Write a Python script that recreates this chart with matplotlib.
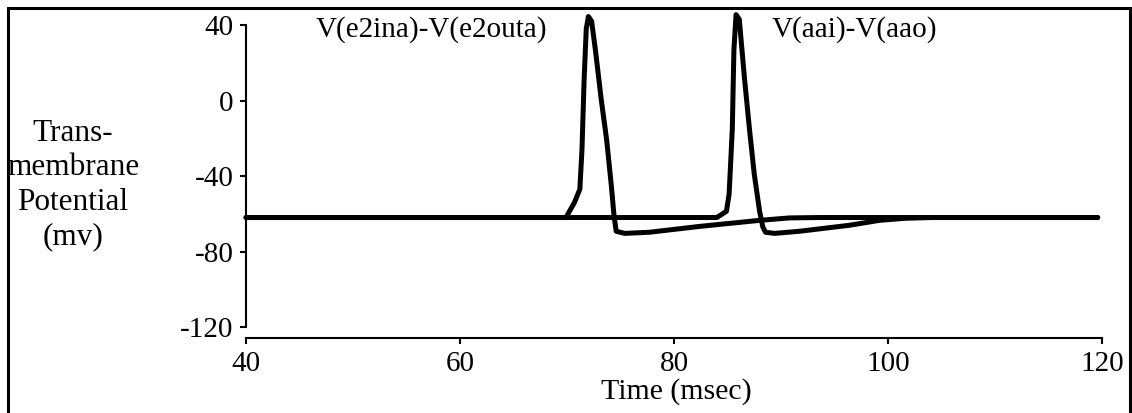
import matplotlib
matplotlib.use("Agg")
import matplotlib.pyplot as plt
from matplotlib.patches import Rectangle

# Series 1: V(e2ina)-V(e2outa)
t1 = [40, 69.9, 70.7, 71.2, 71.4, 71.6, 71.8, 72.0, 72.3, 72.65, 73.2, 73.7, 74.15, 74.4,
      74.6, 75.4, 77.7, 82.4, 88.0, 90.8, 93.6, 119.6]
v1 = [-62, -62, -54, -47, -26, 11, 38, 44.5, 42, 27, 0.5, -20.6, -45.5, -61.4,
      -69.3, -70.4, -69.8, -66.7, -63.5, -62.2, -62, -62]

# Series 2: V(aai)-V(aao)
t2 = [40, 84.0, 84.9, 85.15, 85.45, 85.6, 85.8, 86.1, 86.6, 87.05, 87.5, 88.0, 88.3, 88.55,
      89.4, 91.7, 96.4, 99.2, 101.6, 104, 119.6]
v2 = [-62, -62, -58.7, -49.7, -15, 27, 45.5, 43, 11, -15, -39, -58.7, -67, -69.8,
      -70.4, -69.3, -66.1, -63.5, -62.4, -62, -62]

x_ticks = [40, 60, 80, 100, 120]
y_ticks = [-120, -80, -40, 0, 40]
label1 = "V(e2ina)-V(e2outa)"
label2 = "V(aai)-V(aao)"

plt.rcParams['font.family'] = ['Liberation Serif', 'DejaVu Serif']

W, H = 1132, 413
fig = plt.figure(figsize=(W / 100, H / 100), dpi=100)
ax = fig.add_axes([246 / W, 1 - 327 / H, (1102 - 246) / W, (327 - 25) / H])

for t, v in ((t1, v1), (t2, v2)):
    ax.plot(t, v, color='black', lw=3.6, solid_joinstyle='round', solid_capstyle='round',
            clip_on=False)

ax.set_xlim(40, 120)
ax.set_ylim(-120, 40)
ax.set_xticks(x_ticks)
ax.set_yticks(y_ticks)
ax.set_xticklabels([str(x) for x in x_ticks])
ax.set_yticklabels([str(y) for y in y_ticks])

for s in ('top', 'right'):
    ax.spines[s].set_visible(False)
for s in ('left', 'bottom'):
    ax.spines[s].set_linewidth(1.5)
ax.spines['bottom'].set_position(('outward', 8))
ax.tick_params(axis='both', direction='out', length=4, width=1.5, labelsize=21,
               colors='black')
ax.tick_params(axis='x', pad=5)
ax.tick_params(axis='y', pad=5)

ax.text(46.5, 37.5, label1, fontsize=21, ha='left', va='center')
ax.text(89.1, 37.5, label2, fontsize=21, ha='left', va='center')

fig.text(676 / W, 1 - 392 / H, "Time (msec)", fontsize=21.5, ha='center', va='center')
fig.text(73 / W, 1 - 185 / H, "Trans-\nmembrane\nPotential\n(mv)", fontsize=22.5,
         ha='center', va='center', multialignment='center', linespacing=1.25)

fig.patches.append(Rectangle((8 / W, -0.05), (1130 - 8) / W, 1.05 - 8 / H,
                             transform=fig.transFigure, fill=False, lw=2.2,
                             edgecolor='black'))

fig.savefig("out.png", dpi=100)
